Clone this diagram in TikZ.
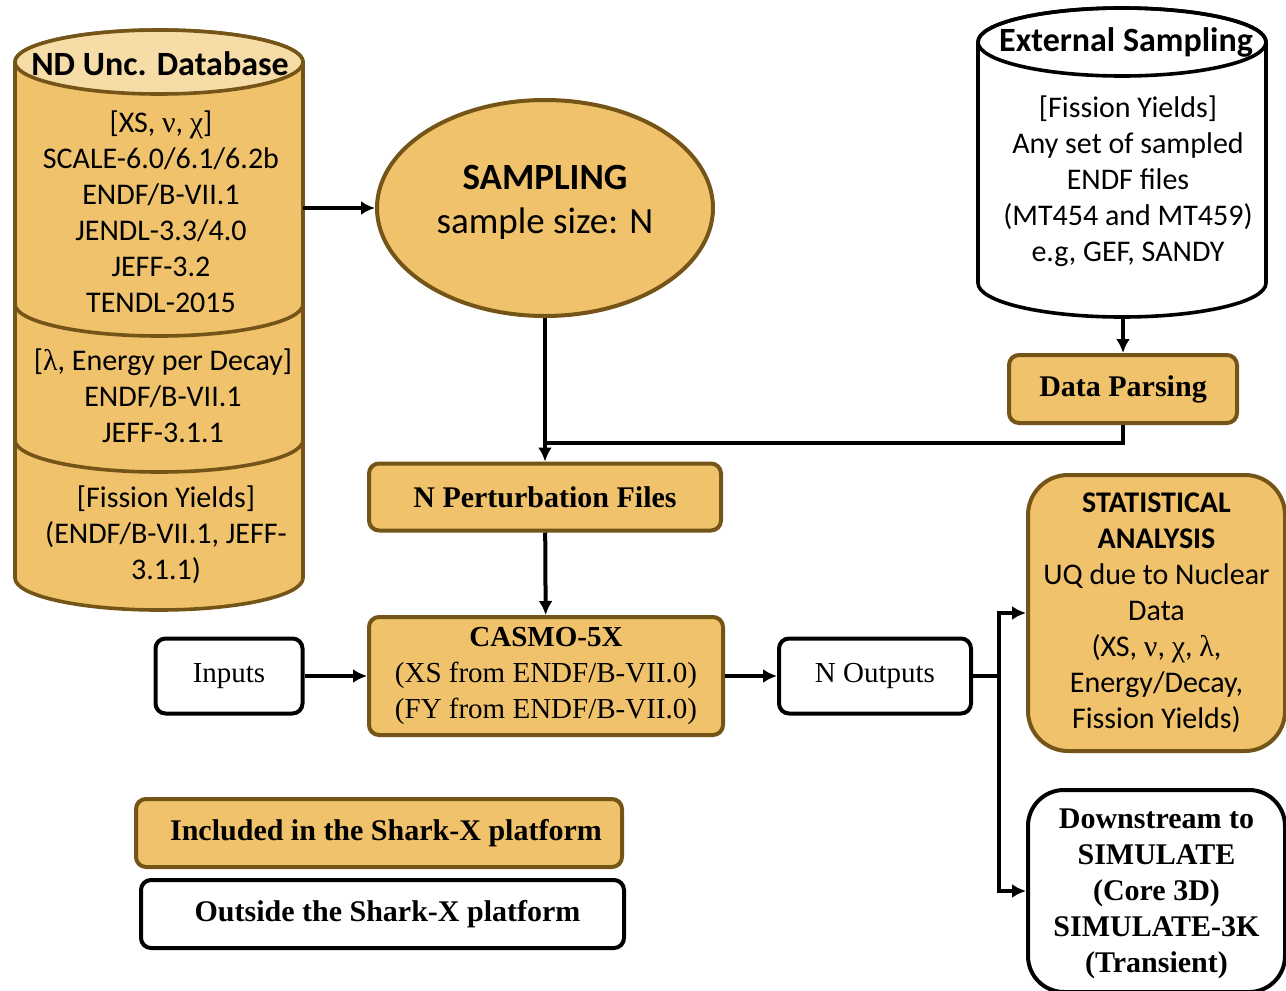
\documentclass[tikz,border=0pt]{standalone}
\usepackage{fontspec}
\setmainfont{Liberation Serif}
\newfontfamily\carlito{Carlito}
\usepackage{tikz}
\usetikzlibrary{shapes.geometric,arrows.meta}

\definecolor{gold}{RGB}{239,194,107}
\definecolor{goldedge}{RGB}{117,84,24}
\definecolor{goldlight}{RGB}{246,221,167}

\begin{document}
\begin{tikzpicture}[x=0.5pt,y=-0.5pt,
	inbox/.style={draw=goldedge,fill=gold,line width=2pt,rounded corners=5pt,inner sep=0pt},
	outbox/.style={draw=black,fill=white,line width=2pt,rounded corners=5pt,inner sep=0pt},
	sans/.style={font=\carlito\fontsize{15}{18}\selectfont,align=center},
	sansbf/.style={font=\carlito\bfseries\fontsize{17}{20}\selectfont,align=center},
	serif/.style={font=\fontsize{14.5}{18}\selectfont,align=center},
	serifbf/.style={font=\bfseries\fontsize{15}{18}\selectfont,align=center},
	conn/.style={line width=2pt,->,>={Latex[length=7pt,width=7pt]}}]
			\useasboundingbox (0,0) rectangle (1286,991);
			% ND database cylinder, three stacked pieces
			\foreach \ytop/\ybot in {440/578,304/440,62/304}
			  \draw[goldedge,fill=gold,line width=1.8pt] (15,\ytop) -- (15,\ybot) arc[start angle=180,end angle=360,x radius=72pt,y radius=16pt] -- (303,\ytop) arc[start angle=0,end angle=180,x radius=72pt,y radius=16pt] -- cycle;
			\draw[goldedge,fill=goldlight,line width=1.8pt] (159,62) ellipse[x radius=72pt,y radius=16pt];
			\node[sansbf] (ndbtitle) at (160,64) {ND Unc. Database};
			\node[sans] (ndbxs) at (161,212) {[XS, {\rmfamily ν}, {\rmfamily χ}]\\SCALE-6.0/6.1/6.2b\\ENDF/B-VII.1\\JENDL-3.3/4.0\\JEFF-3.2\\TENDL-2015};
			\node[sans] (ndbdecay) at (163,396) {[{\rmfamily λ}, Energy per Decay]\\ENDF/B-VII.1\\JEFF-3.1.1};
			\node[sans] (ndbfy) at (166,535) {[Fission Yields]\\(ENDF/B-VII.1, JEFF-\\3.1.1)};
			\coordinate (ndbout) at (303,208);
			% external sampling cylinder
			\draw[line width=1.8pt,fill=white] (978,42) -- (978,283) arc[start angle=180,end angle=360,x radius=72pt,y radius=17pt] -- (1266,42) arc[start angle=0,end angle=180,x radius=72pt,y radius=17pt] -- cycle;
			\draw[line width=1.8pt] (1122,42) ellipse[x radius=72pt,y radius=17pt];
			\node[sansbf] (exttitle) at (1126,42) {External Sampling};
			\node[sans] (exttext) at (1128,181) {[Fission Yields]\\Any set of sampled\\ENDF files\\(MT454 and MT459)\\e.g, GEF, SANDY};
			\coordinate (extout) at (1123,317);
			% boxes
			\node[ellipse,draw=goldedge,fill=gold,line width=2pt,minimum width=168pt,minimum height=108pt,font=\carlito\fontsize{18.5}{22}\selectfont,align=center,text depth=9pt] (sampling) at (545,208) {\textbf{SAMPLING}\\sample size: N};
			\node[inbox,serifbf,minimum width=114pt,minimum height=34pt] (parse) at (1123,389) {Data Parsing};
			\node[inbox,serifbf,minimum width=176pt,minimum height=33.5pt] (pert) at (545,497) {N Perturbation Files};
			\node[inbox,serif,minimum width=177pt,minimum height=59pt] (casmo) at (546,676) {\textbf{CASMO-5X}\\(XS from ENDF/B-VII.0)\\(FY from ENDF/B-VII.0)};
			\node[outbox,serif,minimum width=73.5pt,minimum height=37.5pt] (inputs) at (229,676) {Inputs};
			\node[outbox,serif,minimum width=96pt,minimum height=37.5pt] (outs) at (875,676) {N Outputs};
			\node[inbox,sans,rounded corners=20pt,minimum width=128.5pt,minimum height=138pt] (stat) at (1156.5,613) {\textbf{STATISTICAL}\\\textbf{ANALYSIS}\\UQ due to Nuclear\\Data\\(XS, {\rmfamily ν}, {\rmfamily χ}, {\rmfamily λ},\\Energy/Decay,\\Fission Yields)};
			\node[outbox,serifbf,rounded corners=18pt,minimum width=128.5pt,minimum height=101pt] (down) at (1156.5,891) {\\[-5pt]Downstream to\\SIMULATE\\(Core 3D)\\SIMULATE-3K\\(Transient)};
			% legend
			\node[inbox,serifbf,minimum width=243pt,minimum height=34pt] (leginc) at (379,833) {\hspace{7pt}Included in the Shark-X platform};
			\node[outbox,serifbf,minimum width=241.5pt,minimum height=34pt] (legout) at (382.5,914) {\hspace{5pt}Outside the Shark-X platform};
			% connectors
			\coordinate (junc) at (545,443);
			\coordinate (branch) at (999,676);
			\draw[conn] (ndbout) -- (sampling.west);
			\draw[conn] (extout) -- (parse);
			\draw[conn] (sampling) -- (pert);
			\draw[line width=2pt] (parse) |- (junc);
			\draw[conn] (pert) -- (casmo);
			\draw[conn] (inputs) -- (casmo);
			\draw[conn] (casmo) -- (outs);
			\draw[line width=2pt] (outs) -- (branch);
			\draw[conn] (branch) |- (stat);
			\draw[conn] (branch) |- (down);
\end{tikzpicture}
\end{document}
